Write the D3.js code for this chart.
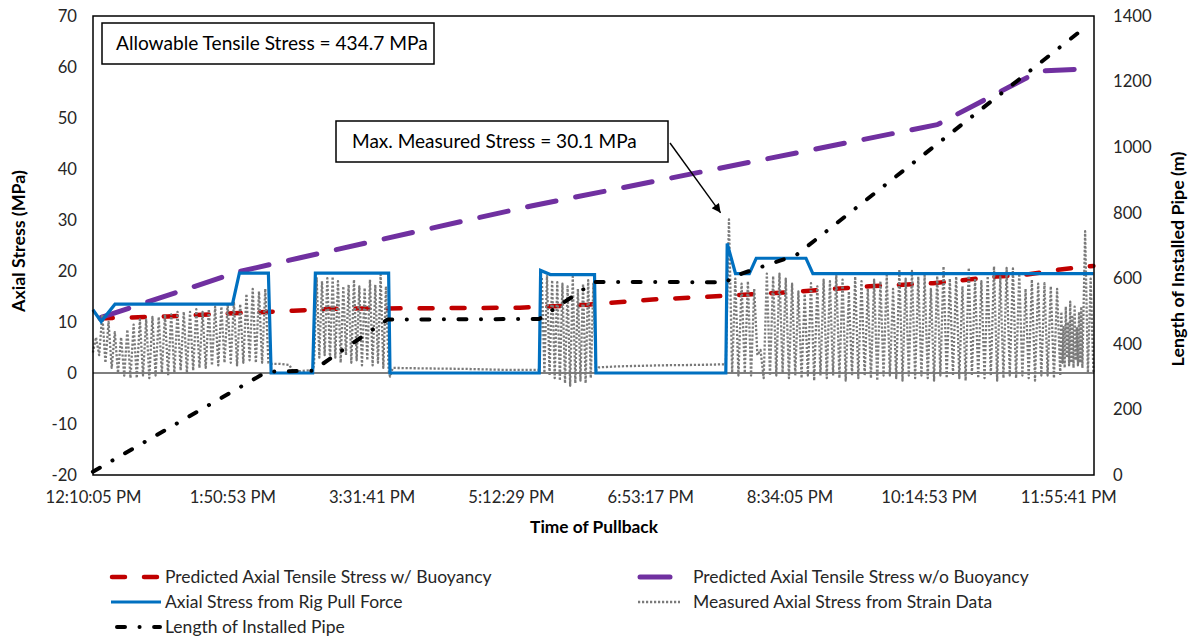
<!DOCTYPE html>
<html><head><meta charset="utf-8">
<script src="https://cdn.jsdelivr.net/npm/d3@7"></script>
<style>body{margin:0;background:#fff} svg{display:block}</style>
</head><body><svg id="c" width="1192" height="640"></svg>
<script>
// ---------------- DATA ----------------
const timeDomain = ["12:10:05", "00:14:25"];
const xTicks = ["12:10:05","13:50:53","15:31:41","17:12:29","18:53:17","20:34:05","22:14:53","23:55:41"];
const leftTicks = [-20,-10,0,10,20,30,40,50,60,70];
const rightTicks = [0,200,400,600,800,1000,1200,1400];

const seriesNames = [
  "Predicted Axial Tensile Stress w/ Buoyancy",
  "Predicted Axial Tensile Stress w/o Buoyancy",
  "Axial Stress from Rig Pull Force",
  "Measured Axial Stress from Strain Data",
  "Length of Installed Pipe"
];

// Predicted w/ buoyancy (MPa)
const predWithBuoy = [["12:15",10.7],["13:04",11.1],["13:51",11.7],["14:35",12.2],["15:02",12.6],["17:19",12.8],
  ["18:08",13.4],["18:55",14.4],["19:53",15.2],["20:42",16.0],["21:32",17.0],["22:18",17.6],["23:04",18.9],
  ["23:26",19.3],["23:50",20.3],["00:14",21.0]];
// Predicted w/o buoyancy (MPa)
const predNoBuoy = [["12:16",10.9],["13:56",19.9],["14:40",22.6],["16:43",30.1],["17:28",32.8],["20:51",43.8],
  ["22:21",48.7],["23:35",59.2],["00:14",59.7]];
// Axial stress from rig pull force (MPa)
const rigPull = [["12:10",12.4],["12:16",10.1],["12:26",13.5],["13:51",13.5],["13:56",19.6],["14:17",19.6],["14:19",0],
  ["14:49",0],["14:51",19.6],["15:44",19.6],["15:45",0],["17:33",0],["17:34",20.1],["17:41",19.3],["18:13",19.3],
  ["18:14",0],["19:48",0],["19:49",25.4],["19:55",19.5],["20:05",19.5],["20:10",22.5],["20:46",22.5],["20:51",19.5],["00:14",19.5]];
// Length of installed pipe (m)
const pipeLength = [["12:10",10],["14:16",315],["14:49",318],["15:43",474],["17:33",476],["18:13",589],["19:49",588],
  ["19:51",600],["20:00",615],["20:39",671],["00:10",1372]];

// Measured stress: pulling bursts (peak / trough values per cycle) and idle stretches
const burstA = {start:"12:10", end:"14:17"};
const burstAPeaks = [7,11.5,10,8,7,8.5,9.5,10.5,10.5,11,11,11.5,11.5,12,12,12,12.5,12,12.5,13,13,13.5,14,13.5,15.5,16.5,16,16.5];
const burstATroughs = [4,3.5,2,1,0,-0.5,-1,-1,-0.5,-1,-0.5,0,-0.5,0,0.5,0,0.5,1,1,1.5,1.5,2,2,1.5,2,2.5,2,2,2];
const idleA = [["14:19",1.8],["14:25",1.8],["14:32",1.6],["14:35",0.3],["14:42",0.4],["14:49",0.6]];
const burstB = {start:"14:50", end:"15:44"};
const burstBPeaks = [18.6,18,18.6,18.9,18,17,17.3,18.3,17,16.7,18.3,17.3,19.3,17];
const burstBTroughs = [1.5,3,3.5,2.5,3,2,3.5,2,2.5,1.5,2.5,1.5,2,1,0.5];
const idleB = [["15:45",-0.7],["15:47",1.0],["16:10",0.9],["16:40",0.8],["17:10",0.6],["17:32",0.6]];
const burstC = {start:"17:33", end:"18:14"};
const burstCPeaks = [18.8,19,18.2,17.8,17.5,17,18.9,16.5,17.5,18.2,17.5];
const burstCTroughs = [0.5,0,-0.5,-1,-1.5,-2,-2.5,-2,-1.5,-2,-1,0.5];
const idleC = [["18:16",1.1],["18:30",1.3],["19:00",1.5],["19:30",1.6],["19:47",1.7]];
const burstD = {start:"19:48", end:"23:50"};
const burstDPeaks = [30.1,18.5,17.5,18,16.5,4.5,19.5,19,19.5,18.5,17.5,16,15.5,17.6,17,18.3,18,19.5,18.3,16,
  18.9,18,16.5,18.3,18,19.2,16.5,20.3,18.5,20,18.9,19.2,16.5,19,20.9,18.5,18.9,17,20.6,18.5,
  18,19,20.9,18.9,20.6,20.5,19.5,16.5,18.3,17.5,17.6,17,16.5];
const burstDTroughs = [1.7,0,-0.5,0,-0.5,3.5,-1,-0.5,-0.5,0,-1,-0.5,-1,-0.5,-1.5,-0.5,-1,-0.5,-1,-1.5,
  -0.5,-1,-0.5,-1,-1.5,-0.5,-0.5,-1,-1.5,-0.5,-1,-0.5,-1,-1.5,-0.5,-1,-0.5,-1,-1.5,-0.5,
  -1,-1,-0.5,-1.5,-1,-0.5,-1,-0.5,-1,-1.5,-0.5,-0.5,-1,-0.5];
const burstE = {start:"23:50", end:"00:06"};
const burstEPeaks = [12,9,13,10,14,11,13,9,12,13];
const burstETroughs = [-0.5,2,1,3,1.5,2,1,2.5,1.5,2,1];
const burstF = {start:"00:06", end:"00:14"};
const burstFPeaks = [27.8,18.5];
const burstFTroughs = [1,0,0];

const allowableText = "Allowable Tensile Stress = 434.7 MPa";
const maxText = "Max. Measured Stress = 30.1 MPa";
const maxStress = 30.1, maxStressTime = "19:50";

// ---------------- CHART ----------------
function t(s){ const p=s.split(":").map(Number); const h=p[0];
  return new Date(Date.UTC(2000,0,h<12?2:1,h,p[1],p[2]||0)); }
function burst(b, peaks, troughs){
  const a=+t(b.start), e=+t(b.end), n=peaks.length, dt=(e-a)/n, out=[];
  for(let i=0;i<n;i++){ out.push([a+i*dt, troughs[i]]); out.push([a+(i+0.5)*dt, peaks[i]]); }
  out.push([e, troughs[n]]); return out;
}
const flat = arr => arr.map(([s,v]) => [+t(s), v]);
const measured = [].concat(
  burst(burstA,burstAPeaks,burstATroughs), flat(idleA),
  burst(burstB,burstBPeaks,burstBTroughs), flat(idleB),
  burst(burstC,burstCPeaks,burstCTroughs), flat(idleC),
  burst(burstD,burstDPeaks,burstDTroughs),
  burst(burstE,burstEPeaks,burstETroughs),
  burst(burstF,burstFPeaks,burstFTroughs));

const FONT = "Lato, 'Open Sans', 'DejaVu Sans', sans-serif";
const P = {left:93, right:1094, top:16, bottom:475};
const svg = d3.select("#c");
svg.append("rect").attr("width",1192).attr("height",640).attr("fill","#fff");

const x = d3.scaleUtc().domain(timeDomain.map(t)).range([P.left,P.right]);
const yL = d3.scaleLinear().domain([-20,70]).range([P.bottom,P.top]);
const yR = d3.scaleLinear().domain([0,1400]).range([P.bottom,P.top]);
const fmt = d3.utcFormat("%-I:%M:%S %p");
const numFmt = d => String(d);

function fitGroup(sel, refNode, target){
  const fs = parseFloat(d3.select(refNode).attr("font-size"));
  const w = refNode.getComputedTextLength();
  sel.attr("font-size", fs*target/w);
}

// axes
const gx = svg.append("g").attr("transform",`translate(0,${P.bottom})`)
  .call(d3.axisBottom(x).tickValues(xTicks.map(t)).tickFormat(fmt).tickSize(0).tickPadding(16));
const gl = svg.append("g").attr("transform",`translate(${P.left},0)`)
  .call(d3.axisLeft(yL).tickValues(leftTicks).tickFormat(numFmt).tickSize(0).tickPadding(16));
const gr = svg.append("g").attr("transform",`translate(${P.right},0)`)
  .call(d3.axisRight(yR).tickValues(rightTicks).tickFormat(numFmt).tickSize(0).tickPadding(19));
[gx,gl,gr].forEach(g=>{ g.select(".domain").remove(); g.attr("font-family",FONT);
  g.selectAll("text").attr("fill","#262626").attr("font-size",18); });
const tickTexts = svg.selectAll(".tick text");
fitGroup(tickTexts, gx.select(".tick text").node(), 96);

// zero line
svg.append("line").attr("x1",P.left).attr("x2",P.right).attr("y1",yL(0)).attr("y2",yL(0))
  .attr("stroke","#000").attr("stroke-width",1.2);

const lineL = d3.line().x(d=>x(typeof d[0]==="string"?t(d[0]):new Date(d[0]))).y(d=>yL(d[1]));
const lineR = d3.line().x(d=>x(t(d[0]))).y(d=>yR(d[1]));

const styles = {
  red:   {stroke:"#C00000", w:4.5, dash:"13,19", cap:"round"},
  purple:{stroke:"#7030A0", w:5,   dash:"29,20", cap:"round"},
  blue:  {stroke:"#0070C0", w:3.2, dash:null,   cap:"butt"},
  gray:  {stroke:"#7a7a7a", w:2.3, dash:"2.2,1.8", cap:"butt"},
  black: {stroke:"#000000", w:4,   dash:"8,14.5,0.1,14.5", cap:"round"}
};
function styled(sel, s){ sel.attr("fill","none").attr("stroke",s.stroke).attr("stroke-width",s.w)
  .attr("stroke-linecap",s.cap).attr("stroke-linejoin","round"); if(s.dash) sel.attr("stroke-dasharray",s.dash); return sel; }

styled(svg.append("path").datum(predWithBuoy).attr("d",lineL), styles.red);
styled(svg.append("path").datum(predNoBuoy).attr("d",lineL), styles.purple);
styled(svg.append("path").datum(measured).attr("d",lineL), styles.gray);
styled(svg.append("path").datum(rigPull).attr("d",lineL), styles.blue).attr("stroke-linejoin","miter");
styled(svg.append("path").datum(pipeLength).attr("d",lineR), styles.black);

// plot border
svg.append("rect").attr("x",P.left).attr("y",P.top).attr("width",P.right-P.left).attr("height",P.bottom-P.top)
  .attr("fill","none").attr("stroke","#000").attr("stroke-width",1.5);

// annotations
function box(x0,y0,x1,y1,txt,tx,target){
  svg.append("rect").attr("x",x0).attr("y",y0).attr("width",x1-x0).attr("height",y1-y0)
    .attr("fill","#fff").attr("stroke","#000").attr("stroke-width",1.5);
  const tt = svg.append("text").attr("x",tx).attr("y",(y0+y1)/2).attr("dy","0.36em")
    .attr("font-family",FONT).attr("font-size",18).attr("fill","#000").text(txt);
  fitGroup(tt, tt.node(), target);
}
box(102,23,434,64, allowableText, 116, 312);
svg.append("defs").append("marker").attr("id","ah").attr("viewBox","0 0 10 10").attr("refX",10).attr("refY",5)
  .attr("markerWidth",11).attr("markerHeight",9).attr("markerUnits","userSpaceOnUse").attr("orient","auto")
  .append("path").attr("d","M0,0L10,5L0,10z").attr("fill","#000");
svg.append("line").attr("x1",670).attr("y1",143).attr("x2",x(t(maxStressTime))-8).attr("y2",yL(maxStress+1.3))
  .attr("stroke","#000").attr("stroke-width",1.4).attr("marker-end","url(#ah)");
box(336,121,668,162, maxText, 352, 285);

// axis titles
function title(txt,cx,cy,rot,target){
  const tt = svg.append("text").attr("transform",`translate(${cx},${cy}) rotate(${rot})`).attr("text-anchor","middle")
    .attr("dy","0.35em").attr("font-family",FONT).attr("font-weight","bold").attr("font-size",18).attr("fill","#000").text(txt);
  fitGroup(tt, tt.node(), target);
}
title("Axial Stress (MPa)", 19, 241, -90, 142);
title("Length of Installed Pipe (m)", 1178, 259, -90, 215);
title("Time of Pullback", 594, 527, 0, 128);

// legend
const legendItems = [
  {name:seriesNames[0], s:styles.red,    x1:112, x2:158, tx:165, y:577},
  {name:seriesNames[2], s:styles.blue,   x1:111, x2:161, tx:165, y:602},
  {name:seriesNames[4], s:styles.black,  x1:117, x2:160, tx:165, y:627},
  {name:seriesNames[1], s:{...styles.purple, dash:null}, x1:640, x2:670, tx:693, y:577},
  {name:seriesNames[3], s:styles.gray,   x1:638, x2:680, tx:693, y:602}
];
const lg = svg.append("g");
legendItems.forEach(it=>{
  styled(lg.append("line").attr("x1",it.x1).attr("x2",it.x2).attr("y1",it.y).attr("y2",it.y), it.s);
  lg.append("text").attr("class","lt").attr("x",it.tx).attr("y",it.y).attr("dy","0.35em")
    .attr("font-family",FONT).attr("font-size",18).attr("fill","#262626").text(it.name);
});
fitGroup(lg.selectAll(".lt"), lg.select(".lt").node(), 327);
</script></body></html>
